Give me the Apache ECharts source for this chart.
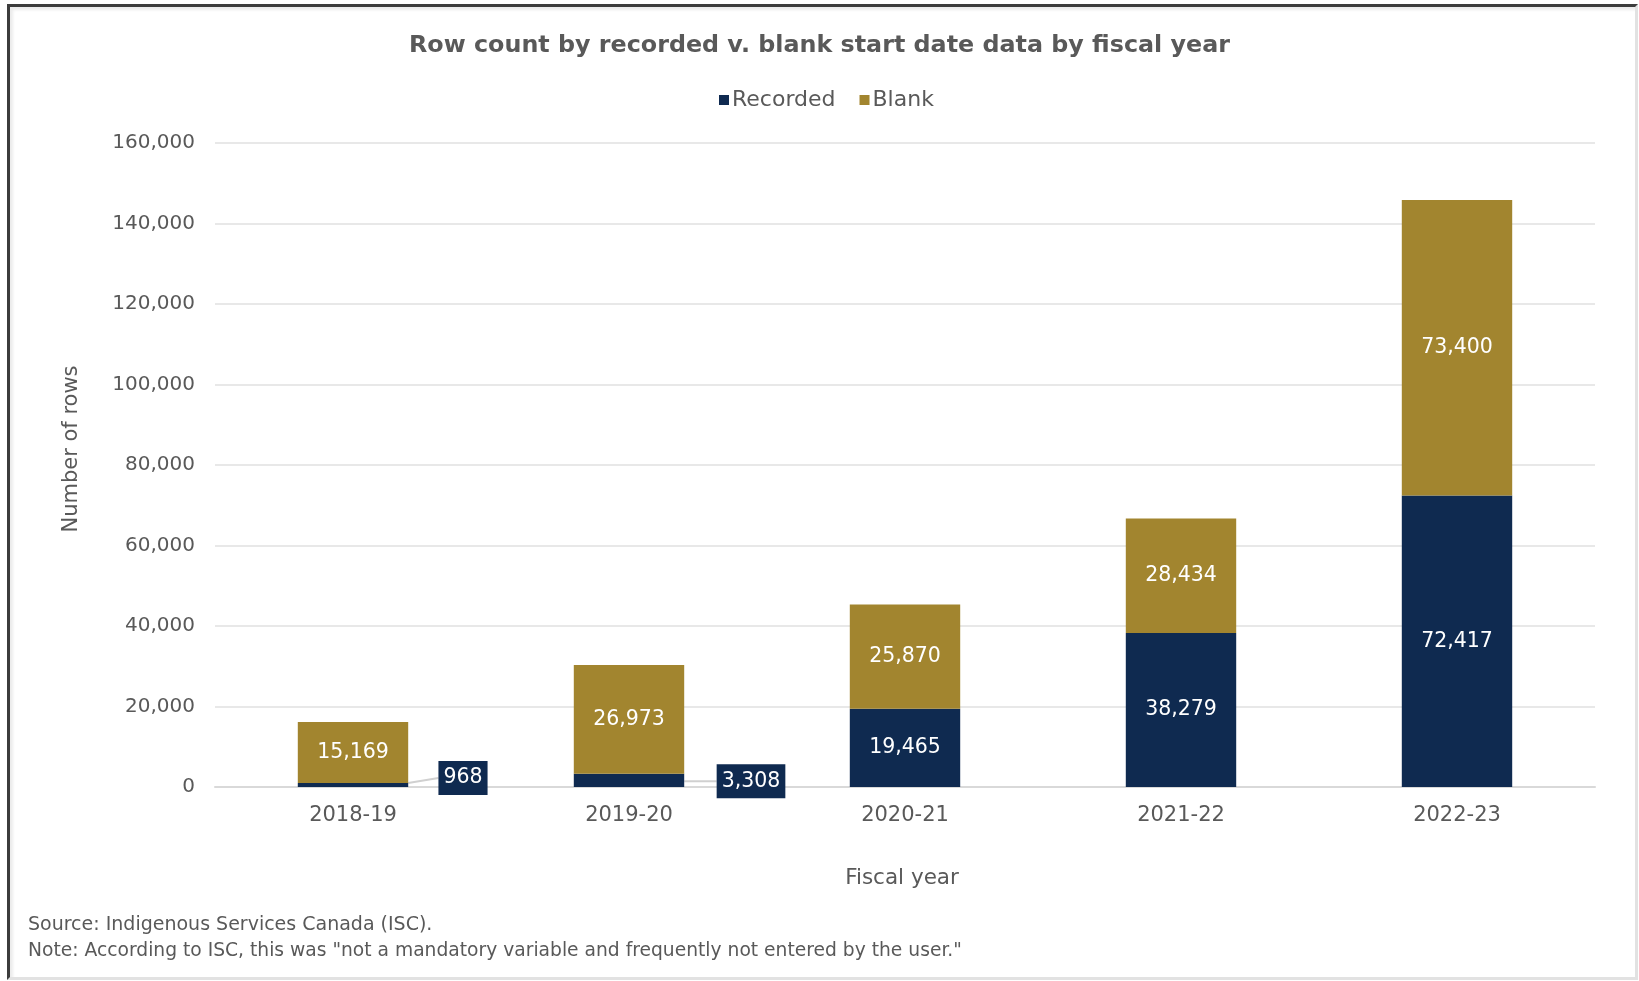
<!DOCTYPE html>
<html>
<head>
<meta charset="utf-8">
<script src="https://cdn.jsdelivr.net/npm/echarts@6/dist/echarts.min.js"></script>
<style>
html,body{margin:0;padding:0;background:#fff;}
#chart{position:absolute;left:0;top:0;width:1639px;height:981px;}
#frame{position:absolute;left:7px;top:4px;width:1625px;height:970px;
  border-left:3px solid #3c3c3c;border-top:3px solid #3c3c3c;
  border-right:3px solid #e2e2e2;border-bottom:3px solid #e2e2e2;
  box-shadow: inset 3px 3px 3px #ececec; pointer-events:none;}
</style>
</head>
<body>
<div id="chart"></div>
<div id="frame"></div>
<script>
const categories = ['2018-19', '2019-20', '2020-21', '2021-22', '2022-23'];
const recorded = [968, 3308, 19465, 38279, 72417];
const blank = [15169, 26973, 25870, 28434, 73400];
const yTicks = [0, 20000, 40000, 60000, 80000, 100000, 120000, 140000, 160000];
const titleText = 'Row count by recorded v. blank start date data by fiscal year';
const sourceText = 'Source: Indigenous Services Canada (ISC).';
const noteText = 'Note: According to ISC, this was "not a mandatory variable and frequently not entered by the user."';

const NAVY = '#0f2a50';
const GOLD = '#a2852f';
const GREY = '#595959';
const FONT = 'DejaVu Sans';

function fmt(v){ return v.toLocaleString('en-US'); }

const chart = echarts.init(document.getElementById('chart'), null, {renderer:'canvas'});
chart.setOption({
  animation: false,
  backgroundColor: '#fff',
  title: {
    text: titleText, left: 'center', top: 29,
    textStyle: {fontFamily: FONT, fontWeight: 'bold', fontSize: 23.8, color: GREY}
  },
  legend: {
    top: 84, left: 714, itemWidth: 10, itemHeight: 10, itemGap: 24,
    icon: 'rect',
    textStyle: {fontFamily: FONT, fontSize: 22, color: GREY, padding: [0,0,0,-2]},
    data: ['Recorded', 'Blank']
  },
  grid: {left: 215, right: 44, top: 143, bottom: 194, containLabel: false},
  xAxis: {
    type: 'category', data: categories,
    name: 'Fiscal year', nameLocation: 'middle', nameGap: 80,
    nameTextStyle: {fontFamily: FONT, fontSize: 21.5, color: GREY, padding: [0, 6, 0, 0]},
    axisLine: {lineStyle: {color: '#d9d9d9', width: 2}},
    axisTick: {show: false},
    axisLabel: {fontFamily: FONT, fontSize: 21, color: GREY, margin: 18}
  },
  yAxis: {
    type: 'value', min: 0, max: 160000, interval: 20000,
    name: 'Number of rows', nameLocation: 'middle', nameGap: 133,
    nameTextStyle: {fontFamily: FONT, fontSize: 21, color: GREY, padding: [0, 0, 0, 32]},
    axisLine: {show: false}, axisTick: {show: false},
    splitLine: {lineStyle: {color: '#e8e8e8', width: 2}},
    axisLabel: {fontFamily: FONT, fontSize: 20, color: GREY, margin: 20,
      formatter: function(v){ return yTicks.indexOf(v) >= 0 ? fmt(v) : ''; }}
  },
  series: [
    {
      name: 'Recorded', type: 'bar', stack: 'total', data: recorded,
      barWidth: '40%', itemStyle: {color: NAVY},
      label: {
        show: true, position: 'inside', color: '#fff', fontFamily: FONT, fontSize: 20.5,
        formatter: function(p){ return fmt(p.value); }
      },
      labelLine: {show: true, lineStyle: {color: '#d0d0d0', width: 2}},
      labelLayout: function(p){
        if (p.dataIndex === 0) return {dx: 110, dy: -7};
        if (p.dataIndex === 1) return {dx: 122, dy: 1};
        return {};
      }
    },
    {
      name: 'Blank', type: 'bar', stack: 'total', data: blank,
      barWidth: '40%', itemStyle: {color: GOLD},
      label: {
        show: true, position: 'inside', color: '#fff', fontFamily: FONT, fontSize: 20.5,
        formatter: function(p){ return fmt(p.value); }
      }
    }
  ],
  graphic: [
    {type: 'text', left: 28, top: 916, style: {text: sourceText, fontFamily: FONT, fontSize: 19, fill: GREY}},
    {type: 'text', left: 28, top: 942, style: {text: noteText, fontFamily: FONT, fontSize: 18.7, fill: GREY}}
  ]
});
// Boxed labels for the two small Recorded values
chart.setOption({
  series: [{
    data: recorded.map(function(v, i){
      if (i < 2) return {value: v, label: {backgroundColor: NAVY, padding: [7, 5, 6, 5]}};
      return v;
    })
  }]
});
</script>
</body>
</html>
